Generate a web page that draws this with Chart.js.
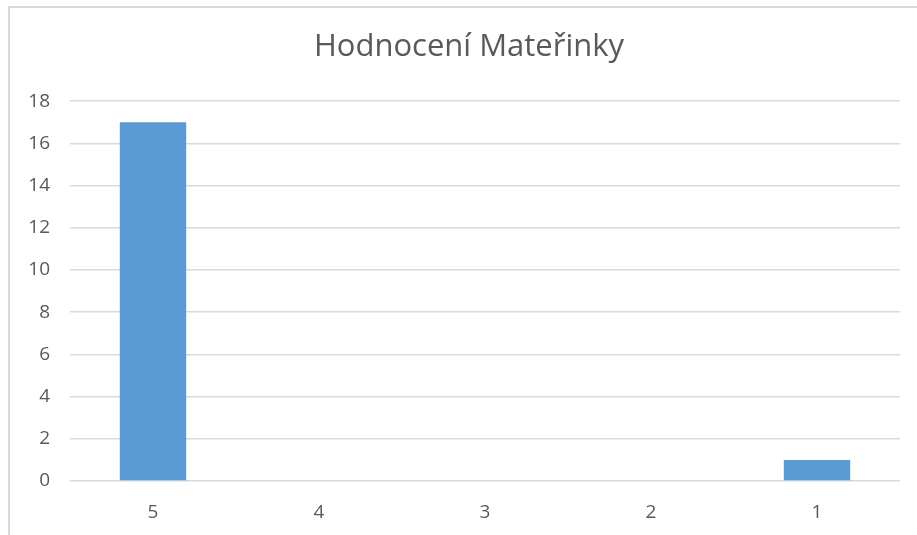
<!DOCTYPE html>
<html>
<head>
<meta charset="utf-8">
<script src="https://cdn.jsdelivr.net/npm/chart.js@4"></script>
<style>
  html, body { margin: 0; padding: 0; background: #fff; overflow: hidden; }
  #wrap { position: relative; width: 917px; height: 535px; }
  #frame {
    position: absolute; left: 8px; top: 6px; width: 1000px; height: 600px;
    border-left: 2px solid #d9d9d9; border-top: 2px solid #d9d9d9;
    box-sizing: border-box; pointer-events: none;
  }
  canvas { position: absolute; left: 0; top: 0; }
</style>
</head>
<body>
<div id="wrap">
  <div id="frame"></div>
  <canvas id="c" width="917" height="535"></canvas>
</div>
<script>
// Ratings (5 = best) and how many answers each got
const categories = ['5', '4', '3', '2', '1'];
const counts = [17, 0, 0, 0, 1];
const yTicks = [0, 2, 4, 6, 8, 10, 12, 14, 16, 18];
const chartTitle = 'Hodnocení Mateřinky';

const FONT = "'Open Sans', sans-serif";
const TEXT = '#595959';

// Center the title over the whole framed area rather than the plot box
const titleSpan = {
  id: 'titleSpan',
  afterLayout(chart) {
    const t = chart.titleBlock;
    if (t) { t.left = 21; t.right = 917; t.width = 896; }
  }
};

new Chart(document.getElementById('c'), {
  type: 'bar',
  data: {
    labels: categories,
    datasets: [{
      data: counts,
      backgroundColor: '#5B9BD5',
      borderWidth: 0,
      categoryPercentage: 1,
      barPercentage: 0.4
    }]
  },
  options: {
    responsive: false,
    animation: false,
    layout: { padding: { left: 0, right: 17, top: 0, bottom: 0 } },
    plugins: {
      legend: { display: false },
      tooltip: { enabled: false },
      title: {
        display: true,
        text: chartTitle,
        color: TEXT,
        font: { family: FONT, size: 31, weight: 'normal', lineHeight: 1.2 },
        padding: { top: 29, bottom: 35 }
      }
    },
    scales: {
      x: {
        grid: { display: false },
        border: { display: false },
        ticks: { color: TEXT, font: { family: FONT, size: 19 }, padding: 12 },
        afterFit: (axis) => { axis.height = 54; }
      },
      y: {
        min: 0,
        max: 18,
        afterBuildTicks: (axis) => { axis.ticks = yTicks.map(v => ({ value: v })); },
        grid: { color: '#d9d9d9', lineWidth: 1.5, drawTicks: false },
        border: { display: false },
        ticks: { color: TEXT, font: { family: FONT, size: 19 }, padding: 20 },
        afterFit: (axis) => { axis.width = 70; }
      }
    }
  },
  plugins: [titleSpan]
});
</script>
</body>
</html>
